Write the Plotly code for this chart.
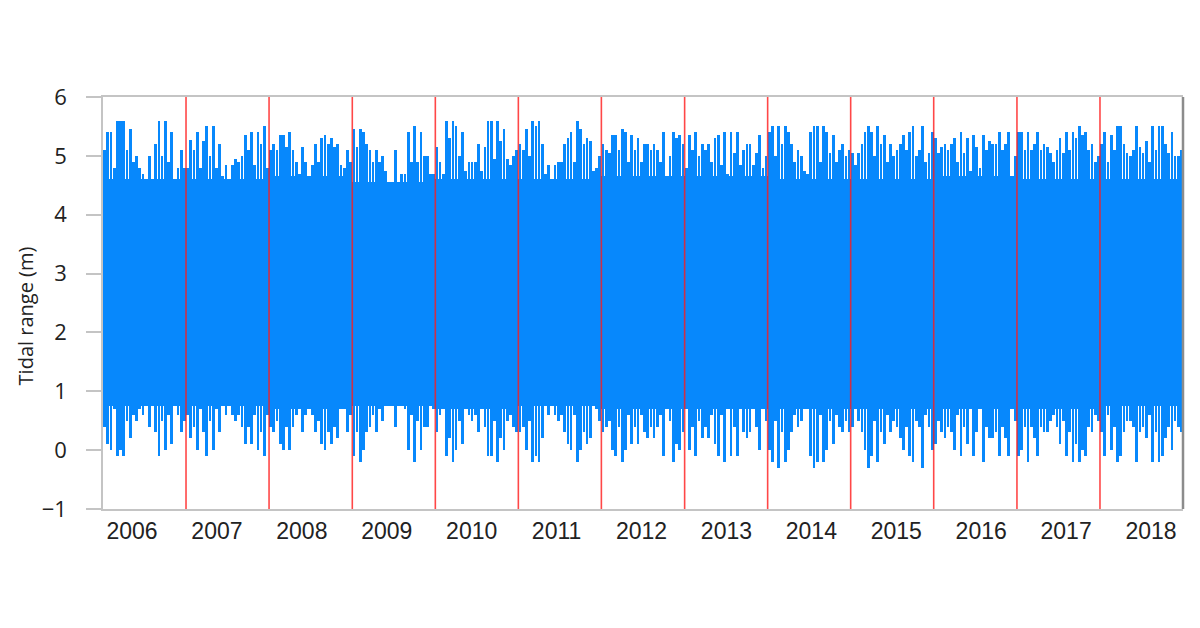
import numpy as np
import pandas as pd
import plotly.graph_objects as go

# ── Colours ──────────────────────────────────────────────────────────────────
BLUE = "#0788fc"
RED = "rgba(255,25,25,0.8)"
AXIS = "#c4c4c4"
TEXT = "#222222"

# ── Data (tidal range in m) ─────────────────────────────────────────────────
YEARS = list(range(2006, 2019))

# solid core of the record for each year (neap band)
CORE_TOP = [4.60, 4.60, 4.65, 4.55, 4.60, 4.60, 4.65, 4.65, 4.60, 4.60, 4.65, 4.60, 4.60]
CORE_BOTTOM = [0.75, 0.75, 0.70, 0.75, 0.70, 0.75, 0.70, 0.70, 0.70, 0.70, 0.70, 0.70, 0.75]

# fortnightly extremes (high water / low water), 26 per year
HIGH = {
    2006: [5.1, 5.4, 5.4, 4.8, 5.6, 5.6, 5.6, 5.1, 5.45, 4.9, 5.0, 4.8, 4.7, 4.4, 5.0, 4.6, 5.2, 5.6, 5.0, 5.6, 4.9, 5.4, 4.4, 4.8, 5.1, 4.8],
    2007: [4.8, 5.27, 5.1, 5.4, 4.8, 5.25, 5.5, 5.0, 5.5, 4.8, 5.2, 4.65, 4.85, 4.3, 4.85, 4.95, 4.9, 5.0, 5.35, 5.1, 5.4, 4.85, 5.4, 5.2, 5.5, 4.8],
    2008: [5.1, 5.2, 5.1, 5.35, 5.35, 5.15, 5.4, 5.1, 4.9, 4.7, 5.15, 4.9, 4.6, 4.85, 5.2, 4.9, 5.3, 5.35, 5.2, 5.3, 5.15, 5.2, 4.85, 4.8, 5.1, 4.9],
    2009: [5.45, 5.15, 5.45, 5.4, 5.2, 5.1, 4.9, 5.1, 4.9, 5.0, 4.75, 4.55, 4.4, 5.1, 4.4, 4.7, 4.7, 5.4, 4.9, 5.5, 4.9, 5.4, 5.0, 5.0, 4.7, 4.7],
    2010: [5.15, 4.9, 4.7, 5.6, 5.3, 5.6, 5.5, 5.0, 5.4, 4.75, 4.9, 4.9, 4.9, 5.2, 4.75, 5.15, 5.6, 5.6, 4.95, 5.6, 5.25, 5.45, 4.95, 4.85, 5.0, 5.1],
    2011: [5.2, 5.1, 5.45, 5.0, 5.6, 5.5, 5.6, 5.2, 4.7, 4.85, 4.35, 4.85, 4.9, 4.9, 5.2, 5.3, 5.4, 4.9, 5.6, 5.45, 5.2, 5.3, 5.25, 4.75, 4.8, 5.0],
    2012: [5.2, 5.1, 5.05, 5.35, 5.35, 5.1, 5.45, 5.4, 4.9, 5.35, 5.1, 5.3, 4.9, 5.2, 5.2, 5.1, 5.2, 5.1, 4.9, 5.4, 4.5, 5.0, 5.4, 5.3, 5.35, 5.2],
    2013: [4.8, 5.35, 5.1, 5.4, 5.0, 5.2, 5.1, 5.2, 4.9, 5.3, 5.35, 4.85, 5.4, 4.7, 5.4, 5.05, 5.4, 4.85, 5.1, 5.2, 5.2, 4.85, 5.05, 5.35, 4.8, 5.0],
    2014: [5.4, 5.5, 5.0, 5.5, 5.2, 5.5, 5.4, 5.2, 4.9, 5.1, 5.0, 4.75, 4.7, 5.4, 5.5, 5.5, 4.9, 5.5, 5.4, 5.05, 5.35, 4.9, 5.1, 5.2, 5.0, 5.1],
    2015: [5.05, 4.85, 5.05, 5.2, 5.4, 5.5, 5.4, 5.0, 5.5, 5.2, 5.35, 4.9, 5.2, 5.0, 5.1, 5.2, 5.35, 5.1, 5.4, 5.5, 5.0, 5.1, 5.5, 4.9, 5.05, 5.4],
    2016: [5.3, 5.05, 5.15, 5.2, 5.1, 5.2, 5.3, 4.9, 5.4, 5.05, 5.3, 4.75, 5.35, 5.15, 4.8, 5.35, 5.1, 5.25, 5.2, 5.2, 5.4, 5.1, 5.2, 5.4, 4.65, 5.0],
    2017: [5.4, 5.4, 5.1, 5.4, 5.1, 5.2, 5.4, 5.1, 5.2, 5.15, 5.05, 4.9, 5.1, 5.3, 5.05, 5.4, 5.1, 5.4, 5.3, 5.5, 5.35, 5.4, 5.1, 5.2, 4.9, 5.0],
    2018: [5.2, 5.4, 4.9, 5.35, 5.1, 5.5, 5.5, 5.2, 5.05, 5.0, 5.1, 5.5, 5.15, 5.05, 5.25, 4.9, 5.5, 5.1, 5.5, 5.5, 5.2, 5.05, 5.4, 5.0, 5.0, 5.1],
}
LOW = {
    2006: [0.4, 0.1, 0.0, 0.7, -0.1, 0.0, -0.1, 0.5, 0.2, 0.6, 0.5, 0.7, 0.6, 0.9, 0.4, 0.8, 0.3, -0.1, 0.5, 0.0, 0.6, 0.1, 0.8, 0.6, 0.3, 0.5],
    2007: [0.6, 0.2, 0.4, 0.0, 0.7, 0.3, -0.1, 0.5, 0.0, 0.7, 0.3, 0.8, 0.6, 1.0, 0.6, 0.5, 0.6, 0.4, 0.1, 0.4, 0.1, 0.6, 0.0, 0.3, -0.1, 0.6],
    2008: [0.4, 0.3, 0.5, 0.1, 0.0, 0.4, 0.0, 0.4, 0.6, 0.8, 0.3, 0.6, 0.9, 0.6, 0.3, 0.5, 0.1, 0.0, 0.3, 0.1, 0.4, 0.2, 0.7, 0.7, 0.3, 0.6],
    2009: [-0.1, 0.3, -0.2, 0.0, 0.3, 0.4, 0.6, 0.3, 0.7, 0.5, 0.8, 1.0, 1.2, 0.4, 1.0, 0.8, 0.7, 0.0, 0.6, -0.2, 0.5, 0.0, 0.4, 0.4, 0.8, 0.7],
    2010: [0.3, 0.6, 0.8, -0.1, 0.2, -0.2, 0.0, 0.5, 0.1, 0.8, 0.6, 0.5, 0.6, 0.3, 0.8, 0.4, -0.1, -0.1, 0.5, -0.2, 0.2, 0.0, 0.5, 0.6, 0.4, 0.3],
    2011: [0.3, 0.4, 0.0, 0.5, -0.2, -0.1, -0.2, 0.2, 0.8, 0.6, 1.0, 0.6, 0.5, 0.6, 0.3, 0.1, 0.0, 0.6, -0.2, 0.0, 0.3, 0.1, 0.2, 0.8, 0.7, 0.5],
    2012: [0.3, 0.4, 0.5, 0.0, -0.1, 0.4, -0.2, 0.0, 0.6, 0.1, 0.4, 0.1, 0.6, 0.3, 0.2, 0.4, 0.2, 0.4, 0.6, -0.1, 0.9, 0.5, -0.2, 0.1, 0.0, 0.3],
    2013: [0.7, 0.0, 0.4, -0.1, 0.5, 0.2, 0.4, 0.2, 0.6, 0.1, -0.1, 0.6, -0.2, 0.8, -0.1, 0.4, -0.1, 0.7, 0.3, 0.2, 0.3, 0.7, 0.4, 0.0, 0.7, 0.5],
    2014: [0.0, -0.2, 0.5, -0.3, 0.3, -0.2, 0.0, 0.3, 0.6, 0.4, 0.5, 0.8, 0.8, -0.1, -0.3, -0.2, 0.6, -0.2, 0.0, 0.5, 0.1, 0.6, 0.4, 0.3, 0.5, 0.3],
    2015: [0.4, 0.7, 0.5, 0.3, 0.0, -0.3, -0.1, 0.5, -0.2, 0.3, 0.1, 0.6, 0.3, 0.5, 0.4, 0.2, 0.0, 0.4, -0.1, -0.2, 0.5, 0.4, -0.3, 0.6, 0.4, 0.0],
    2016: [0.1, 0.5, 0.3, 0.2, 0.4, 0.3, 0.0, 0.6, -0.1, 0.4, 0.1, 0.7, -0.1, 0.3, 0.7, -0.2, 0.4, 0.2, 0.2, 0.3, -0.1, 0.4, 0.2, -0.1, 0.8, 0.5],
    2017: [-0.1, 0.0, 0.4, -0.2, 0.4, 0.2, -0.1, 0.4, 0.3, 0.3, 0.5, 0.6, 0.4, 0.1, 0.5, -0.1, 0.3, -0.2, 0.1, -0.2, 0.0, -0.1, 0.4, 0.3, 0.6, 0.5],
    2018: [0.3, -0.1, 0.6, 0.0, 0.4, -0.2, -0.1, 0.3, 0.5, 0.5, 0.4, -0.2, 0.3, 0.4, 0.2, 0.6, -0.2, 0.3, -0.2, -0.1, 0.2, 0.4, 0.0, 0.5, 0.4, 0.3],
}

# ── Build the time axis ──────────────────────────────────────────────────────
DAY_MS = 86400000
step_days = 365.25 / 26

spike_x, spike_hi, spike_lo = [], [], []
for yr in YEARS:
    start = pd.Timestamp(f"{yr}-01-01")
    for k, (hi, lo) in enumerate(zip(HIGH[yr], LOW[yr])):
        spike_x.append(start + pd.Timedelta(days=(k + 0.5) * step_days))
        spike_hi.append(hi)
        spike_lo.append(lo)
spike_hi = np.array(spike_hi)
spike_lo = np.array(spike_lo)

mid_year = [pd.Timestamp(f"{yr}-07-02") for yr in YEARS]
core_top = np.array(CORE_TOP)
core_bottom = np.array(CORE_BOTTOM)

fig = go.Figure()

# solid neap band
fig.add_trace(go.Bar(
    x=mid_year, y=core_top - core_bottom, base=core_bottom,
    width=[365.25 * DAY_MS] * len(YEARS),
    marker=dict(color=BLUE, line=dict(width=0)),
    hoverinfo="skip", showlegend=False,
))

# spring tide spikes
fig.add_trace(go.Bar(
    x=spike_x, y=spike_hi - spike_lo, base=spike_lo,
    width=step_days * DAY_MS * 0.85,
    marker=dict(color=BLUE, line=dict(width=0)),
    hovertemplate="%{x|%d %b %Y}<br>%{base:.2f} – %{y:.2f} m<extra></extra>",
    showlegend=False,
))

# dummy trace so the year-label axis is drawn
fig.add_trace(go.Scatter(x=YEARS, y=[None] * len(YEARS), xaxis="x2",
                         mode="markers", showlegend=False, hoverinfo="skip"))

# year boundaries in red
for yr in YEARS[1:]:
    fig.add_shape(type="line", xref="x", yref="paper",
                  x0=pd.Timestamp(f"{yr}-01-01"), x1=pd.Timestamp(f"{yr}-01-01"),
                  y0=0, y1=1, line=dict(color=RED, width=1.6), layer="above")

# right border
fig.add_shape(type="line", xref="paper", yref="paper", x0=1, x1=1, y0=0, y1=1,
              line=dict(color="#8c8c8c", width=2.5))

fig.add_annotation(text="Tidal range (m)", textangle=-90, showarrow=False,
                   xref="paper", yref="paper", x=-0.072, y=0.468,
                   xanchor="center", yanchor="middle",
                   font=dict(family="Open Sans, sans-serif", size=20, color=TEXT))

# the page adds an 8px body margin, so the margins are shifted by that
fig.update_layout(
    width=1200, height=628,
    paper_bgcolor="white", plot_bgcolor="white",
    margin=dict(l=95, r=25, t=89, b=127),
    barmode="overlay", bargap=0,
    xaxis=dict(
        type="date", range=["2006-01-01", "2019-01-01"],
        showticklabels=False, ticks="", showgrid=False,
        showline=True, linecolor=AXIS, linewidth=1.5, mirror=True, zeroline=False,
    ),
    xaxis2=dict(
        overlaying="x", anchor="y", side="bottom",
        range=[2005.6585, 2018.3765], tickvals=YEARS, ticktext=[str(y) for y in YEARS],
        ticks="", showgrid=False, showline=False, zeroline=False,
        tickfont=dict(family="Liberation Sans, Arial, sans-serif", size=23, color=TEXT),
        ticklabelstandoff=6,
    ),
    yaxis=dict(
        range=[-1, 6], tickvals=list(range(-1, 7)),
        ticks="outside", ticklen=15, tickcolor=AXIS, tickwidth=1.5,
        showline=True, linecolor=AXIS, linewidth=1.5, showgrid=False, zeroline=False,
        tickfont=dict(family="Open Sans, sans-serif", size=22, color=TEXT),
        ticklabelstandoff=15,
    ),
)

fig.write_html("out.html")
